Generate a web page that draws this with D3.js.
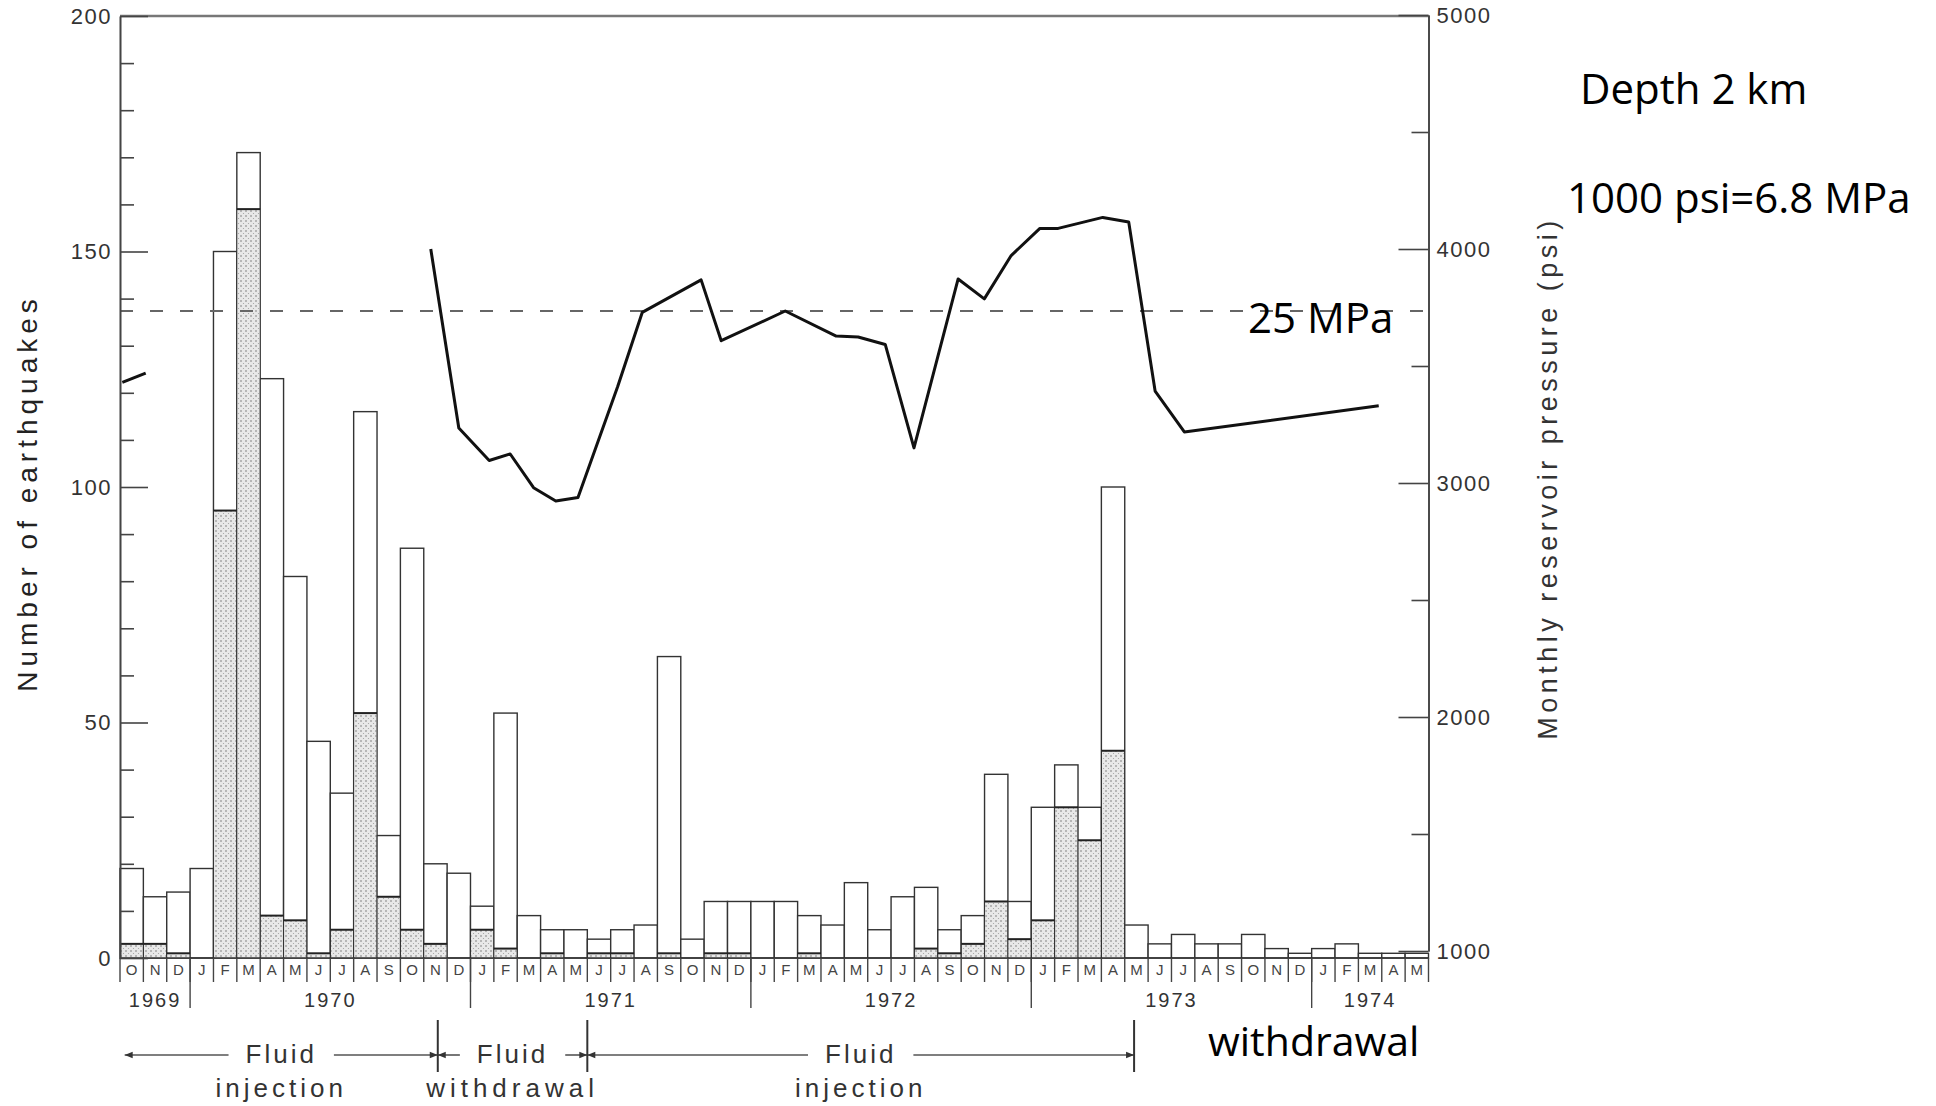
<!DOCTYPE html>
<html>
<head>
<meta charset="utf-8">
<script src="https://cdn.jsdelivr.net/npm/d3@7"></script>
<style>
  body { margin: 0; background: #fff; }
  svg text { font-family: "Liberation Sans", Arial, sans-serif; }
  .note { font-family: "Open Sans", sans-serif; font-size: 42px; fill: #000; }
  .axis path, .axis line { stroke: #444; stroke-width: 1.6; }
  .axis text { font-size: 22px; fill: #333; letter-spacing: 1.5px; }
</style>
</head>
<body>
<div id="chart"></div>
<script>
// months from Oct 1969 to May 1974
let months = ["O","N","D",
  "J","F","M","A","M","J","J","A","S","O","N","D",
  "J","F","M","A","M","J","J","A","S","O","N","D",
  "J","F","M","A","M","J","J","A","S","O","N","D",
  "J","F","M","A","M","J","J","A","S","O","N","D",
  "J","F","M","A","M"];
let years = ["1969","1970","1971","1972","1973","1974"];
let yearStart = [0, 3, 15, 27, 39, 51];
let yearEnd = [3, 15, 27, 39, 51, 56];

// number of earthquakes per month (outline) and stippled part
let totalQuakes = [19,13,14,
  19,150,171,123,81,46,35,116,26,87,20,18,
  11,52,9,6,6,4,6,7,64,4,12,12,
  12,12,9,7,16,6,13,15,6,9,39,12,
  32,41,32,100,7,3,5,3,3,5,2,1,
  2,3,1,1,1];
let stippled = [3,3,1,
  0,95,159,9,8,1,6,52,13,6,3,0,
  6,2,0,1,0,1,1,0,1,0,1,1,
  0,0,1,0,0,0,0,2,1,3,12,4,
  8,32,25,44,0,0,0,0,0,0,0,0,
  0,0,0,0,0];

// monthly reservoir pressure (psi), x in months after start of Oct 1969
let stubMonth = [0.1, 1.1];
let stubPsi = [3430, 3470];
let pressMonth = [13.3,14.5,15.8,16.7,17.7,18.65,19.6,21.3,22.35,24.87,25.73,28.47,30.65,31.59,32.75,33.98,35.87,36.99,38.14,39.37,40.15,42.06,43.17,44.3,45.55,53.87];
let pressPsi = [4000,3235,3096,3124,2980,2923,2938,3412,3729,3868,3608,3735,3628,3624,3592,3150,3872,3787,3972,4088,4088,4135,4115,3393,3218,3330];
let thresholdPsi = 3735;

// phases (month boundaries)
let phaseStart = [0.2, 13.6, 20];
let phaseEnd = [13.6, 20, 43.4];
let phaseTop = ["Fluid", "Fluid", "Fluid"];
let phaseBottom = ["injection", "withdrawal", "injection"];

let width = 1936, height = 1106;

let svg = d3.select("#chart").append("svg")
  .attr("width", width)
  .attr("height", height);

let x = d3.scaleLinear().domain([0, months.length]).range([120, 1428.5]);
let yL = d3.scaleLinear().domain([0, 200]).range([958, 16]);
let yR = d3.scaleLinear().domain([1000, 5000]).range([951, 15]);
let bw = x(1) - x(0);

let defs = svg.append("defs");
let pat = defs.append("pattern")
  .attr("id", "stip")
  .attr("width", 5).attr("height", 5)
  .attr("patternUnits", "userSpaceOnUse");
pat.append("rect").attr("width", 5).attr("height", 5).attr("fill", "#e8e8e8");
pat.append("circle").attr("cx", 1).attr("cy", 1).attr("r", 0.8).attr("fill", "#777");
pat.append("circle").attr("cx", 3.5).attr("cy", 3.5).attr("r", 0.6).attr("fill", "#a0a0a0");

defs.append("marker")
  .attr("id", "arrow")
  .attr("viewBox", "0 -5 10 10")
  .attr("refX", 10).attr("refY", 0)
  .attr("markerWidth", 10).attr("markerHeight", 8)
  .attr("markerUnits", "userSpaceOnUse")
  .attr("orient", "auto-start-reverse")
  .append("path")
  .attr("d", "M0,-4L10,0L0,4Z")
  .attr("fill", "#333");

// top border
svg.append("line")
  .attr("x1", x(0)).attr("x2", x(months.length))
  .attr("y1", yL(200)).attr("y2", yL(200))
  .attr("stroke", "#777").attr("stroke-width", 2.5);

// bars
svg.append("g").selectAll("rect")
  .data(totalQuakes)
  .enter().append("rect")
  .attr("x", (d, i) => x(i))
  .attr("width", bw)
  .attr("y", d => yL(d))
  .attr("height", d => yL(0) - yL(d))
  .attr("fill", "#fff")
  .attr("stroke", "#333")
  .attr("stroke-width", 1.4);

svg.append("g").selectAll("rect")
  .data(stippled)
  .enter().append("rect")
  .attr("x", (d, i) => x(i) + 0.8)
  .attr("width", bw - 1.6)
  .attr("y", d => yL(d))
  .attr("height", d => yL(0) - yL(d))
  .attr("fill", "url(#stip)");

svg.append("g").selectAll("line")
  .data(stippled.map((d, i) => [d, i]).filter(d => d[0] > 0))
  .enter().append("line")
  .attr("x1", d => x(d[1])).attr("x2", d => x(d[1] + 1))
  .attr("y1", d => yL(d[0])).attr("y2", d => yL(d[0]))
  .attr("stroke", "#222").attr("stroke-width", 2);

// baseline
svg.append("line")
  .attr("x1", x(0)).attr("x2", x(months.length))
  .attr("y1", yL(0)).attr("y2", yL(0))
  .attr("stroke", "#333").attr("stroke-width", 1.6);

// dashed 25 MPa line
svg.append("line")
  .attr("x1", x(0)).attr("x2", x(months.length))
  .attr("y1", yR(thresholdPsi)).attr("y2", yR(thresholdPsi))
  .attr("stroke", "#666").attr("stroke-width", 2)
  .attr("stroke-dasharray", "13,17");

// pressure line
let line = d3.line()
  .x(d => x(d[0]))
  .y(d => yR(d[1]));

svg.append("path")
  .datum(stubMonth.map((m, i) => [m, stubPsi[i]]))
  .attr("d", line)
  .attr("fill", "none").attr("stroke", "#111").attr("stroke-width", 3);

svg.append("path")
  .datum(pressMonth.map((m, i) => [m, pressPsi[i]]))
  .attr("d", line)
  .attr("fill", "none").attr("stroke", "#111").attr("stroke-width", 3)
  .attr("stroke-linejoin", "round");

// left axis
svg.append("g").attr("class", "axis")
  .attr("transform", "translate(" + x(0) + ",0)")
  .call(d3.axisLeft(yL).tickValues([0, 50, 100, 150, 200]).tickSize(-28).tickSizeOuter(0).tickPadding(8));
svg.append("g").attr("class", "axis")
  .attr("transform", "translate(" + x(0) + ",0)")
  .call(d3.axisLeft(yL).tickValues(d3.range(10, 200, 10).filter(v => v % 50)).tickSize(-14).tickSizeOuter(0).tickFormat(""));

// right axis
svg.append("g").attr("class", "axis")
  .attr("transform", "translate(" + x(months.length) + ",0)")
  .call(d3.axisRight(yR).tickValues([1000, 2000, 3000, 4000, 5000]).tickFormat(d3.format("d")).tickSize(-30).tickSizeOuter(0).tickPadding(8))
  .selectAll("text").attr("fill", "#555").attr("font-size", 21);
svg.append("g").attr("class", "axis")
  .attr("transform", "translate(" + x(months.length) + ",0)")
  .call(d3.axisRight(yR).tickValues([1500, 2500, 3500, 4500]).tickSize(-17).tickSizeOuter(0).tickFormat(""));

// month row
svg.append("g").selectAll("line")
  .data(d3.range(months.length + 1))
  .enter().append("line")
  .attr("x1", d => x(d)).attr("x2", d => x(d))
  .attr("y1", yL(0)).attr("y2", 982)
  .attr("stroke", "#444").attr("stroke-width", 1.4);

svg.append("g").selectAll("text")
  .data(months)
  .enter().append("text")
  .attr("x", (d, i) => x(i + 0.5))
  .attr("y", 975)
  .attr("text-anchor", "middle")
  .attr("font-size", 15)
  .attr("fill", "#444")
  .text(d => d);

svg.append("g").selectAll("line")
  .data(yearStart.slice(1))
  .enter().append("line")
  .attr("x1", d => x(d)).attr("x2", d => x(d))
  .attr("y1", yL(0)).attr("y2", 1008)
  .attr("stroke", "#444").attr("stroke-width", 1.4);

svg.append("g").selectAll("text")
  .data(years)
  .enter().append("text")
  .attr("x", (d, i) => x((yearStart[i] + yearEnd[i]) / 2))
  .attr("y", 1007)
  .attr("text-anchor", "middle")
  .attr("font-size", 20)
  .attr("fill", "#333")
  .style("letter-spacing", "2px")
  .text(d => d);

// axis titles
svg.append("text")
  .attr("transform", "translate(37,493) rotate(-90)")
  .attr("text-anchor", "middle")
  .attr("font-size", 28)
  .attr("fill", "#222")
  .style("letter-spacing", "5px")
  .text("Number of earthquakes");

svg.append("text")
  .attr("transform", "translate(1557,478) rotate(-90)")
  .attr("text-anchor", "middle")
  .attr("font-size", 27)
  .attr("fill", "#333")
  .style("letter-spacing", "4.5px")
  .text("Monthly reservoir pressure (psi)");

// phases
let arrowY = 1055;
phaseStart.forEach(function(s, i) {
  let x0 = x(s), x1 = x(phaseEnd[i]), cx = (x0 + x1) / 2;
  let t = svg.append("text")
    .attr("x", cx).attr("y", 1063)
    .attr("text-anchor", "middle")
    .attr("font-size", 26)
    .attr("fill", "#333")
    .style("letter-spacing", "3px")
    .text(phaseTop[i]);
  let half = t.node().getComputedTextLength() / 2;
  svg.append("line")
    .attr("x1", cx - half - 17).attr("x2", x0)
    .attr("y1", arrowY).attr("y2", arrowY)
    .attr("stroke", "#555").attr("stroke-width", 1.6)
    .attr("marker-end", "url(#arrow)");
  svg.append("line")
    .attr("x1", cx + half + 17).attr("x2", x1)
    .attr("y1", arrowY).attr("y2", arrowY)
    .attr("stroke", "#555").attr("stroke-width", 1.6)
    .attr("marker-end", "url(#arrow)");
  svg.append("text")
    .attr("x", cx).attr("y", 1097)
    .attr("text-anchor", "middle")
    .attr("font-size", 26)
    .attr("fill", "#333")
    .style("letter-spacing", i == 1 ? "5px" : "4px")
    .text(phaseBottom[i]);
});

svg.append("g").selectAll("line")
  .data(phaseEnd)
  .enter().append("line")
  .attr("x1", d => x(d)).attr("x2", d => x(d))
  .attr("y1", 1020).attr("y2", 1072)
  .attr("stroke", "#333").attr("stroke-width", 2);

// slide notes
svg.append("text").attr("class", "note").attr("x", 1580).attr("y", 104).text("Depth 2 km");
svg.append("text").attr("class", "note").attr("x", 1567).attr("y", 213).text("1000 psi=6.8 MPa");
svg.append("text").attr("class", "note").attr("x", 1248).attr("y", 333).text("25 MPa");
svg.append("text").attr("class", "note").attr("x", 1208).attr("y", 1056).style("font-size", "41px").text("withdrawal");
</script>
</body>
</html>
